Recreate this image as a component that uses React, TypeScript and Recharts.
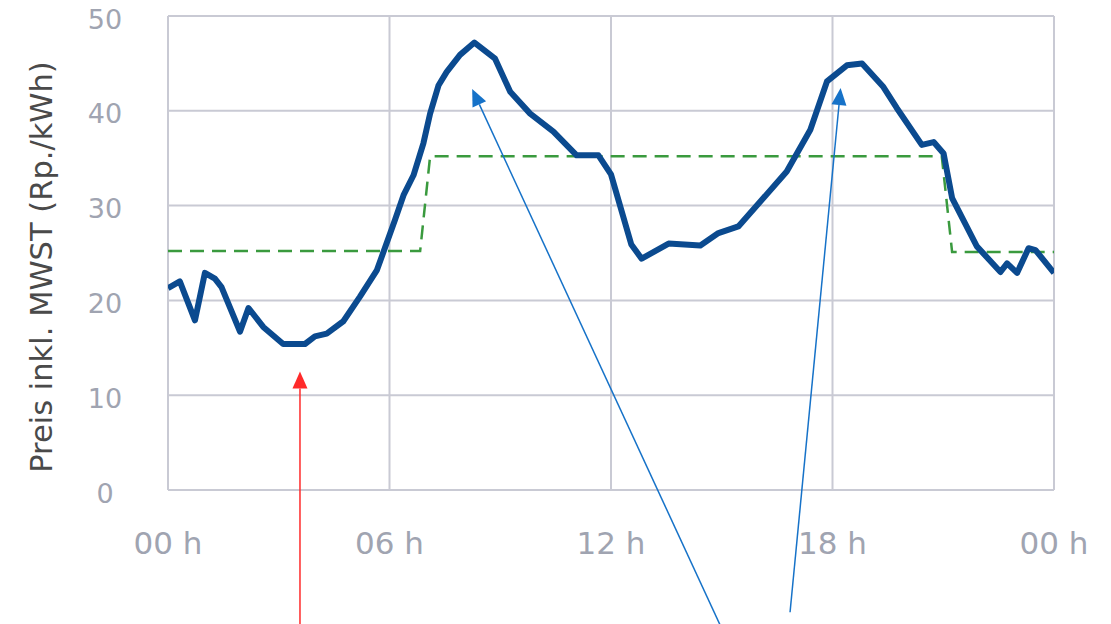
import React from "react";
import { LineChart, Line, XAxis, YAxis, CartesianGrid, ReferenceLine } from "recharts";

const hours = [0, 0.32, 0.73, 1.0, 1.27, 1.45, 1.95, 2.18, 2.58, 3.12, 3.71, 3.98, 4.3, 4.75, 5.2, 5.66, 6.15, 6.38, 6.65, 6.92, 7.1, 7.33, 7.55, 7.91, 8.3, 8.86, 9.27, 9.81, 10.44, 11.07, 11.66, 12.0, 12.55, 12.83, 13.56, 14.42, 14.91, 15.45, 16.04, 16.76, 17.4, 17.85, 18.39, 18.8, 19.38, 19.74, 20.42, 20.74, 21.01, 21.24, 21.91, 22.55, 22.73, 23.0, 23.31, 23.5, 24.0];
const prices = [21.3, 22.0, 17.9, 22.9, 22.3, 21.4, 16.7, 19.2, 17.2, 15.4, 15.4, 16.2, 16.5, 17.8, 20.4, 23.2, 28.5, 31.1, 33.2, 36.6, 39.7, 42.7, 44.1, 45.9, 47.2, 45.5, 42.0, 39.7, 37.8, 35.3, 35.3, 33.3, 25.9, 24.4, 26.0, 25.8, 27.1, 27.8, 30.4, 33.6, 38.0, 43.1, 44.8, 45.0, 42.5, 40.3, 36.4, 36.7, 35.5, 30.8, 25.7, 23.0, 23.9, 22.9, 25.5, 25.3, 22.9];

const tariffHours = [0, 6.83, 7.1, 20.96, 21.24, 24];
const tariffPrices = [25.2, 25.2, 35.2, 35.2, 25.1, 25.1];

const xTicks = [0, 6, 12, 18, 24];
const xTickLabels = ["00 h", "06 h", "12 h", "18 h", "00 h"];
const yTicks = [0, 10, 20, 30, 40, 50];

const arrowRed = [{ x: 3.575, y: -14.2 }, { x: 3.575, y: 12.5 }];
const arrowBlue1 = [{ x: 14.95, y: -14.2 }, { x: 8.24, y: 42.3 }];
const arrowBlue2 = [{ x: 16.85, y: -12.9 }, { x: 18.22, y: 42.4 }];

const spotData = hours.map((h, i) => ({ x: h, y: prices[i] }));
const tariffData = tariffHours.map((h, i) => ({ x: h, y: tariffPrices[i] }));

const makeArrow = (color: string) => (p: any) => {
  const { x1, y1, x2, y2 } = p;
  const dx = x2 - x1;
  const dy = y2 - y1;
  const len = Math.sqrt(dx * dx + dy * dy) || 1;
  const ux = dx / len;
  const uy = dy / len;
  const hl = 17;
  const hw = 7.5;
  const bx = x2 - ux * hl;
  const by = y2 - uy * hl;
  const pts = `${x2},${y2} ${bx - uy * hw},${by + ux * hw} ${bx + uy * hw},${by - ux * hw}`;
  return (
    <g>
      <line x1={x1} y1={y1} x2={bx} y2={by} stroke={color} strokeWidth={1.5} />
      <polygon points={pts} fill={color} />
    </g>
  );
};

const XTick = (props: any) => {
  const { x, y, payload } = props;
  const idx = xTicks.indexOf(payload.value);
  return (
    <text x={x} y={y + 56} textAnchor="middle" fill="#a0a4b1" fontSize={31} fontFamily="DejaVu Sans">
      {xTickLabels[idx]}
    </text>
  );
};

const YTick = (props: any) => {
  const { y, payload } = props;
  return (
    <text x={105} y={y + 3} textAnchor="middle" dominantBaseline="central" fill="#a0a4b1" fontSize={27} fontFamily="DejaVu Sans">
      {payload.value}
    </text>
  );
};

export default function App() {
  return (
    <div style={{ position: "absolute", left: 0, top: 0, width: 1111, height: 624, background: "#fff" }}>
      <LineChart width={1111} height={624} margin={{ top: 16, right: 57, bottom: 0, left: 0 }}>
        <CartesianGrid stroke="#c9cad4" strokeWidth={2} vertical={true} horizontal={true} />
        <XAxis
          dataKey="x"
          type="number"
          domain={[0, 24]}
          ticks={xTicks}
          height={134}
          axisLine={false}
          tickLine={false}
          tick={<XTick />}
          allowDataOverflow
        />
        <YAxis
          type="number"
          domain={[0, 50]}
          ticks={yTicks}
          width={168}
          axisLine={false}
          tickLine={false}
          tick={<YTick />}
          allowDataOverflow
          label={{
            value: "Preis inkl. MWST (Rp./kWh)",
            angle: -90,
            position: "insideLeft",
            dx: 36,
            dy: 14,
            style: { fill: "#4a4a4a", fontSize: 30.5, fontFamily: "DejaVu Sans", textAnchor: "middle" },
          }}
        />
        <Line
          data={tariffData}
          dataKey="y"
          type="linear"
          stroke="#3a9a3e"
          strokeWidth={2.5}
          strokeDasharray="14 8"
          dot={false}
          isAnimationActive={false}
        />
        <Line
          data={spotData}
          dataKey="y"
          type="linear"
          stroke="#0b4a8f"
          strokeWidth={6}
          strokeLinejoin="round"
          dot={false}
          isAnimationActive={false}
        />
        <ReferenceLine segment={arrowRed} ifOverflow="visible" shape={makeArrow("#ff2a2a")} />
        <ReferenceLine segment={arrowBlue1} ifOverflow="visible" shape={makeArrow("#1672c8")} />
        <ReferenceLine segment={arrowBlue2} ifOverflow="visible" shape={makeArrow("#1672c8")} />
      </LineChart>
    </div>
  );
}
